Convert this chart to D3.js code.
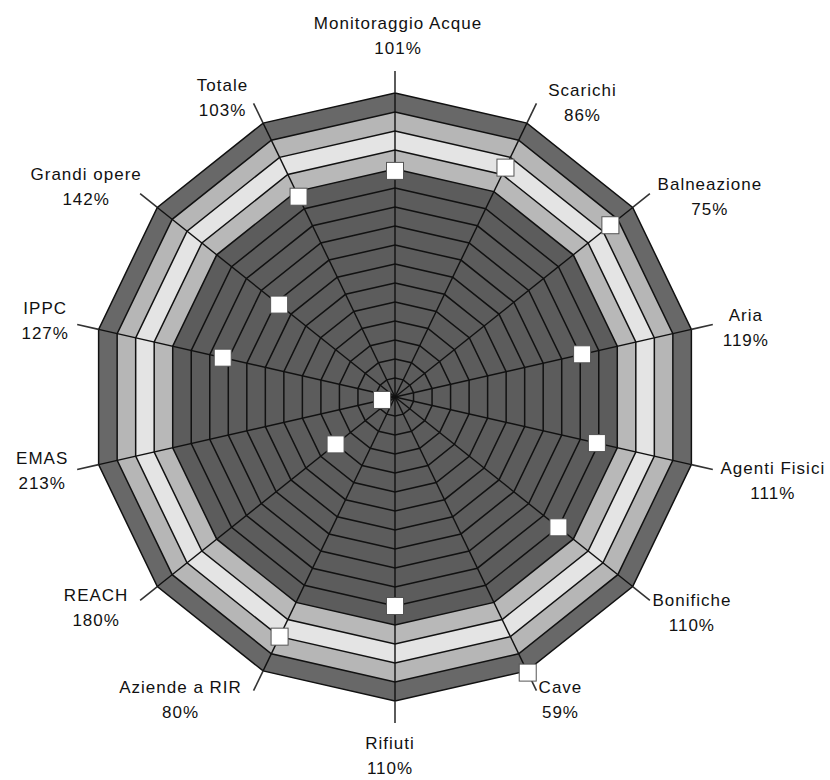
<!DOCTYPE html>
<html>
<head>
<meta charset="utf-8">
<script src="https://cdn.jsdelivr.net/npm/d3@7"></script>
<style>
  body { margin: 0; background: #fff; }
  text { font-family: "Liberation Sans", Arial, sans-serif; font-size: 17px; letter-spacing: 1px; fill: #111; }
</style>
</head>
<body>
<div id="chart"></div>
<script>
// Data
const categories = ["Monitoraggio Acque", "Scarichi", "Balneazione", "Aria", "Agenti Fisici",
  "Bonifiche", "Cave", "Rifiuti", "Aziende a RIR", "REACH", "EMAS", "IPPC", "Grandi opere", "Totale"];
const values = [101, 86, 75, 119, 111, 110, 59, 110, 80, 180, 213, 127, 142, 103];
const ringTicks = d3.range(60, 220, 10);   // 60 (outer) ... 210

// Layout
const width = 830, height = 780;
const cx = 395, cy = 397, R = 304;
// label block offsets from the end of each leader line
const labelOffsets = [[3, -36], [46, -1], [60, 2], [33, 3], [60, 10], [42, 12], [24, 8],
  [-5, 32], [-73, 8], [-44, 7], [-35, 0], [-32, -4], [-54, -8], [-31, -6]];
// band fills, outer to inner (value where band starts, colour)
const bandFills = [[60, "#686868"], [70, "#b6b6b6"], [80, "#e4e4e4"], [90, "#b8b8b8"], [100, "#5c5c5c"]];

const n = categories.length;
const angle = i => i * 2 * Math.PI / n;

// inverted radial scale: 220% at centre, 60% at outer edge
const r = d3.scaleLinear().domain([220, 60]).range([0, R]);

const svg = d3.select("#chart").append("svg")
    .attr("width", width)
    .attr("height", height);

const g = svg.append("g").attr("transform", `translate(${cx},${cy})`);

const ring = d3.lineRadial()
    .angle((d, i) => angle(i))
    .radius(d => r(d))
    .curve(d3.curveLinearClosed);

// filled bands
g.selectAll("path.band")
  .data(bandFills)
  .join("path")
    .attr("class", "band")
    .attr("d", d => ring(categories.map(() => d[0])))
    .attr("fill", d => d[1]);

// ring lines
g.selectAll("path.ring")
  .data(ringTicks)
  .join("path")
    .attr("class", "ring")
    .attr("d", t => ring(categories.map(() => t)))
    .attr("fill", "none")
    .attr("stroke", "#111")
    .attr("stroke-width", 1.5);

// spokes
g.selectAll("line.spoke")
  .data(categories)
  .join("line")
    .attr("class", "spoke")
    .attr("x1", 0).attr("y1", 0)
    .attr("x2", (d, i) => R * Math.sin(angle(i)))
    .attr("y2", (d, i) => -R * Math.cos(angle(i)))
    .attr("stroke", "#111")
    .attr("stroke-width", 1.4);

// leader lines outside
const lead = 22;
g.selectAll("line.leader")
  .data(categories)
  .join("line")
    .attr("class", "leader")
    .attr("x1", (d, i) => R * Math.sin(angle(i)))
    .attr("y1", (d, i) => -R * Math.cos(angle(i)))
    .attr("x2", (d, i) => (R + lead) * Math.sin(angle(i)))
    .attr("y2", (d, i) => -(R + lead) * Math.cos(angle(i)))
    .attr("stroke", "#333")
    .attr("stroke-width", 1.6);

// markers
const ms = 17;
g.selectAll("rect.marker")
  .data(values)
  .join("rect")
    .attr("class", "marker")
    .attr("x", (v, i) => r(v) * Math.sin(angle(i)) - ms / 2)
    .attr("y", (v, i) => -r(v) * Math.cos(angle(i)) - ms / 2)
    .attr("width", ms)
    .attr("height", ms)
    .attr("fill", "#fff")
    .attr("stroke", "#555")
    .attr("stroke-width", 1);

// labels
const labels = g.selectAll("text.label")
  .data(categories)
  .join("text")
    .attr("class", "label")
    .attr("text-anchor", "middle")
    .attr("transform", (d, i) => {
      const lx = (R + lead) * Math.sin(angle(i)) + labelOffsets[i][0];
      const ly = -(R + lead) * Math.cos(angle(i)) + labelOffsets[i][1];
      return `translate(${lx},${ly})`;
    });

labels.append("tspan")
    .attr("x", 0).attr("y", -6)
    .text(d => d);
labels.append("tspan")
    .attr("x", 0).attr("y", 19)
    .text((d, i) => values[i] + "%");
</script>
</body>
</html>
